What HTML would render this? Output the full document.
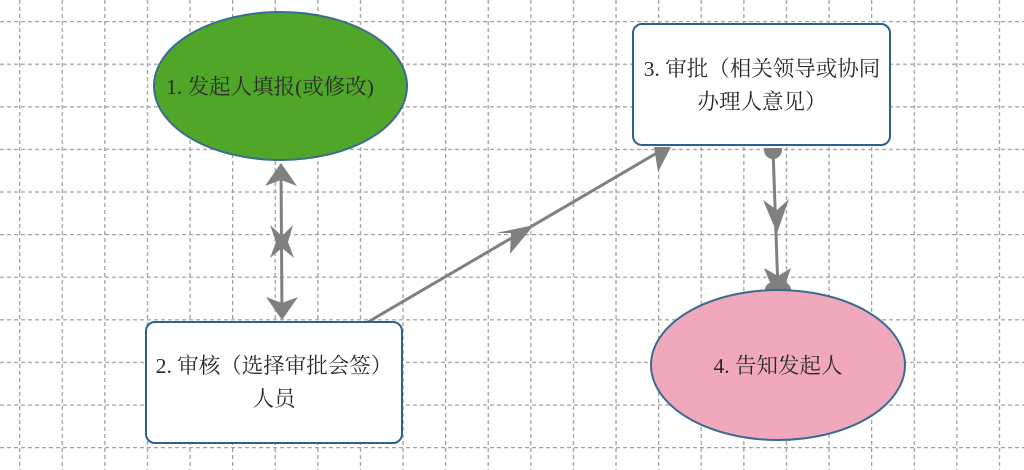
<!DOCTYPE html>
<html><head><meta charset="utf-8"><style>
html,body{margin:0;padding:0;background:#fff;}
svg{display:block}
text{font-family:"Liberation Serif","Noto Serif CJK SC",serif;font-size:21.5px;fill:#2a2a2a;}
</style></head><body>
<svg width="1024" height="470" viewBox="0 0 1024 470" xmlns="http://www.w3.org/2000/svg">
<defs>
<pattern id="gv" x="19" y="0" width="42.6" height="470" patternUnits="userSpaceOnUse">
<line x1="0.5" y1="0" x2="0.5" y2="470" stroke="#a0a0a0" stroke-width="1.6" stroke-dasharray="4,3"/>
</pattern>
<pattern id="gh" x="0" y="21" width="1024" height="42.6" patternUnits="userSpaceOnUse">
<line x1="0" y1="0.5" x2="1024" y2="0.5" stroke="#a0a0a0" stroke-width="1.6" stroke-dasharray="4,3"/>
</pattern>
</defs>
<rect width="1024" height="470" fill="url(#gv)"/>
<rect width="1024" height="470" fill="url(#gh)"/>

<g stroke="#808080" stroke-width="3" fill="#808080">
<line x1="281" y1="165" x2="282" y2="318"/>
<line x1="368" y1="322" x2="662" y2="150"/>
<line x1="773" y1="150" x2="778" y2="290"/>
</g>
<g fill="#808080">
<polygon points="281,163 265,186 281,180 297,186"/>
<polygon points="270,225 282,236 293,225 288,242 294,258 282,248 270,258 276,242"/>
<polygon points="282,320 266,297 282,303 298,297"/>
<polygon points="534,225 496,233 511,233 510,254"/>
<polygon points="654,147 671,147 658,172"/>
<circle cx="773" cy="150" r="9"/>
<rect x="760" y="140" width="26" height="8" fill="#fff"/>
<polygon points="777,233 763,200 777,210 789,199"/>
<polygon points="764,268 778,276 791,268 785,285 771,285"/>
<ellipse cx="778" cy="289" rx="13" ry="8"/>
</g>

<ellipse cx="280.5" cy="86" rx="126.5" ry="74" fill="#50a628" stroke="#3b6b8e" stroke-width="2"/>
<text x="270" y="94" text-anchor="middle">1. 发起人填报(或修改)</text>

<rect x="633" y="24" width="257" height="121" rx="9" fill="#fff" stroke="#2e6090" stroke-width="2"/>
<text x="762" y="76" text-anchor="middle">3. 审批（相关领导或协同</text>
<text x="762" y="109" text-anchor="middle">办理人意见）</text>

<rect x="146" y="322" width="256" height="121" rx="9" fill="#fff" stroke="#2e6090" stroke-width="2"/>
<text x="274" y="373" text-anchor="middle">2. 审核（选择审批会签）</text>
<text x="274" y="406" text-anchor="middle">人员</text>

<ellipse cx="778" cy="365" rx="127" ry="75" fill="#f0a8bd" stroke="#3b6b8e" stroke-width="2"/>
<text x="778" y="373" text-anchor="middle">4. 告知发起人</text>
</svg>
</body></html>
